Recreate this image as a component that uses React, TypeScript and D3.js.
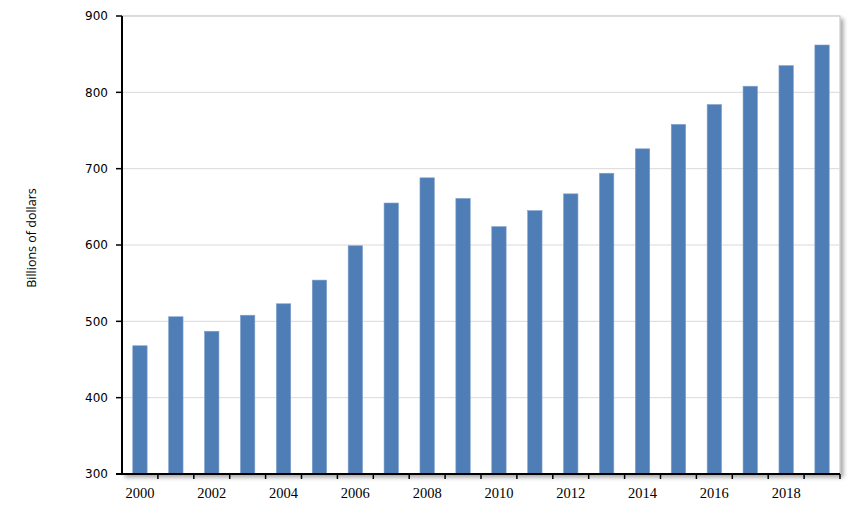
import React from "react";
import * as d3 from "d3";

const years = ["2000","2001","2002","2003","2004","2005","2006","2007","2008","2009","2010","2011","2012","2013","2014","2015","2016","2017","2018","2019"];
const values = [468, 506, 487, 508, 523, 554, 599, 655, 688, 661, 624, 645, 667, 694, 726, 758, 784, 808, 835, 862];
const yTicks = [300, 400, 500, 600, 700, 800, 900];
const xLabelYears = ["2000","2002","2004","2006","2008","2010","2012","2014","2016","2018"];

export default function App() {
  const W = 860, H = 514;
  const left = 122, right = 840, top = 16, bottom = 474;
  const x = d3.scaleBand<string>().domain(years).range([left, right]).paddingInner(0.6).paddingOuter(0.3);
  const xb = d3.scaleBand<string>().domain(years).range([left, right]);
  const y = d3.scaleLinear().domain([300, 900]).range([bottom, top]);
  return (
    <svg width={W} height={H} style={{ position: "absolute", left: 0, top: 0 }}>
      <defs>
        <filter id="sh" x="-5%" y="-5%" width="112%" height="112%">
          <feGaussianBlur in="SourceAlpha" stdDeviation="2" />
          <feOffset dx="3" dy="3" result="b" />
          <feComponentTransfer><feFuncA type="linear" slope="0.35" /></feComponentTransfer>
          <feMerge><feMergeNode /><feMergeNode in="SourceGraphic" /></feMerge>
        </filter>
      </defs>
      <rect width={W} height={H} fill="#fff" />
      <rect x={left} y={top} width={right - left} height={bottom - top} fill="#fff" stroke="#c0c0c0" strokeWidth={1} filter="url(#sh)" />
      {yTicks.map(t => (
        <line key={t} x1={left} x2={right} y1={y(t)} y2={y(t)} stroke="#d9d9d9" strokeWidth={1} />
      ))}
      {years.map((yr, i) => (
        <rect key={yr} x={x(yr)} y={y(values[i])} width={x.bandwidth()} height={bottom - y(values[i])} fill="#4f7db5" stroke="#7d9fcc" strokeWidth={0.6} />
      ))}
      <line x1={left} x2={left} y1={top} y2={bottom + 1} stroke="#000" strokeWidth={2} />
      <line x1={left - 6} x2={right} y1={bottom} y2={bottom} stroke="#000" strokeWidth={2} />
      {yTicks.map(t => (
        <g key={t}>
          <line x1={left - 6} x2={left} y1={y(t)} y2={y(t)} stroke="#000" strokeWidth={1.5} />
          <text x={108} y={y(t)} dy="0.35em" textAnchor="end" fontFamily="DejaVu Sans" fontSize={12} fill="#000">{t}</text>
        </g>
      ))}
      {years.map(yr => (
        <line key={yr} x1={(xb(yr) as number) + xb.bandwidth()} x2={(xb(yr) as number) + xb.bandwidth()} y1={bottom} y2={bottom + 5} stroke="#000" strokeWidth={1.5} />
      ))}
      {xLabelYears.map(yr => (
        <text key={yr} x={(xb(yr) as number) + xb.bandwidth() / 2} y={498} textAnchor="middle" fontFamily="Liberation Serif" fontSize={14.5} fill="#000">{yr}</text>
      ))}
      <text transform={`translate(36,${238}) rotate(-90)`} textAnchor="middle" fontFamily="Open Sans" fontSize={12.5} fill="#000">Billions of dollars</text>
    </svg>
  );
}
